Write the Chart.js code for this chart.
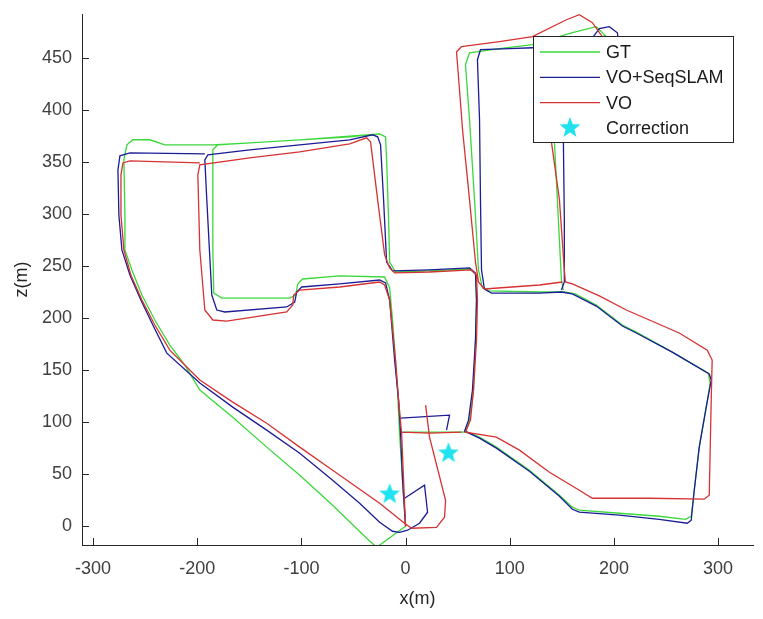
<!DOCTYPE html>
<html>
<head>
<meta charset="utf-8">
<script src="https://cdn.jsdelivr.net/npm/chart.js@4.4.0/dist/chart.umd.min.js"></script>
<style>
  html, body { margin: 0; padding: 0; background: #fff; }
</style>
</head>
<body>
<canvas id="c" width="763" height="619"></canvas>
<script>
// trajectory pieces, [x, z] in metres
const gtA = [[0,0],[-2.9,44.2],[-5.8,89.4],[-7.7,130.8],[-12.5,198.1],[-15.3,228.8],[-20.1,239.4],[-63.3,240.4],[-98.8,237.5],[-103.5,232.7],[-105.5,222.1],[-111.2,219.2],[-176.4,219.2],[-184.1,224],[-185,265.4],[-185,361.5],[-180.3,366.3],[-149.6,368.3],[-101.6,371.2],[-53.7,374],[-24.9,376.9],[-19.2,374],[-18.2,351.9],[-16.3,294.2],[-15.3,253.8],[-9.6,244.2],[23,245.2],[61.4,247.1],[67.1,242.3],[68.1,217.3],[67.1,178.8],[65.2,130.8],[61.4,101.9],[57.5,91.3],[70.9,85.6],[87.2,76],[118.9,53.8],[147.7,29.8],[160.1,18.3],[166.8,15.4],[205.2,12.5],[243.5,9.6],[268.5,6.7],[274.2,9.6],[277.1,34.6],[281.9,76],[288.6,114.4],[292.4,137.5],[290.5,147.1],[256,167.3],[221.5,186.5],[208.1,193.3],[183.1,212.5],[163,223.1],[152.4,225],[128.5,225],[80.5,226],[73.8,228.8],[70,246.2],[66.2,313.5],[61.4,390.4],[57.5,443.3],[61.4,454.8],[90.1,458.7],[121.8,462.5],[160.1,474],[183.1,479.8],[191.8,471.2],[139,451.9],[142.9,369.2],[146.7,294.2],[149.6,236.5],[151.5,226.9]];
const gtB = [[-24.9,376.9],[-101.6,371.2],[-149.6,368.3],[-185,366.3],[-231.1,366.3],[-245.4,371.2],[-261.7,371.2],[-267.5,366.3],[-270.4,351.9],[-269.4,299],[-269.4,265.4],[-262.7,246.2],[-253.1,222.1],[-240.7,198.1],[-226.3,174],[-211.9,154.8],[-197.5,130.8],[-165.9,104.8],[-133.3,76],[-101.6,49],[-70,20.2],[-37.4,-11.5],[-27.8,-20.2],[0,0]];
const gtC = [[-5.8,90.4],[57.5,90.4]];

const seqA = [[0,0],[-2.9,44.2],[-4.8,89.4],[-6.7,121.2],[-10.5,159.6],[-15.3,217.3],[-19.2,233.7],[-24.9,236.5],[-63.3,232.7],[-99.7,229.8],[-104.5,225],[-106.4,215.4],[-114.1,210.6],[-173.5,205.8],[-181.2,207.7],[-186,222.1],[-190.8,313.5],[-192.7,351.9],[-189.8,356.7],[-149.6,361.5],[-101.6,366.3],[-53.7,371.2],[-31.6,376],[-26.8,374],[-24,366.3],[-21.1,313.5],[-18.2,253.8],[-12.5,245.2],[23,246.2],[61.4,248.1],[67.1,243.3],[68.1,217.3],[67.1,178.8],[64.2,130.8],[60.4,101.9],[56.6,91.3],[70.9,84.6],[87.2,75],[118.9,52.9],[147.7,28.8],[160.1,16.3],[166.8,13.5],[205.2,10.6],[243.5,6.7],[270.4,2.9],[274.2,5.8],[277.1,34.6],[281.9,76],[288.6,114.4],[293.4,140.4],[291.5,146.2],[256,167.3],[221.5,185.6],[208.1,192.3],[183.1,211.5],[160.1,223.1],[149.6,225],[128.5,224],[82.5,224],[75.7,227.9],[72.9,246.2],[71.9,313.5],[71,390.4],[69,448.1],[71.9,457.7],[99.7,458.7],[121.8,459.6],[171.6,461.5],[180.3,470.2],[186,477.9],[195.6,479.8],[203.3,474],[204.2,467.3],[162,452.9],[151.5,446.2],[151.5,369.2],[152.4,294.2],[152.4,234.6],[149.6,226.9]];
const seqB = [[-192.7,357.7],[-264.6,358.7],[-274.2,355.8],[-276.1,342.3],[-275.2,299],[-272.3,265.4],[-264.6,241.3],[-254.1,217.3],[-242.6,193.3],[-229.2,166.3],[-197.5,137.5],[-165.9,114.4],[-133.3,92.3],[-101.6,70.2],[-70,44.2],[-44.1,22.1],[-24.9,3.8],[-12.5,-4.8],[-5.8,-5.8],[1.9,-3.8],[13.4,2.9],[21.1,13.5],[18.2,39.4],[-1,26.9]];
const seqC = [[-4.8,103.8],[42.2,106.7],[39.3,92.3]];

const voA = [[0,0],[-1.9,44.2],[-3.8,89.4],[-6.7,121.2],[-9.6,159.6],[-15.3,217.3],[-20.1,231.7],[-24.9,234.6],[-63.3,229.8],[-101.6,226.9],[-107.4,222.1],[-108.3,212.5],[-114.1,205.8],[-171.6,197.1],[-185,198.1],[-192.7,207.7],[-197.5,265.4],[-199.4,337.5],[-197.5,347.1],[-149.6,353.8],[-101.6,359.6],[-53.7,367.3],[-37.4,373.1],[-33.6,369.2],[-26.8,313.5],[-20.1,260.6],[-15.3,248.1],[-10.5,243.3],[23,244.2],[63.3,246.2],[68.1,241.3],[69,217.3],[68.1,178.8],[65.2,130.8],[62.3,101.9],[57.5,90.4],[87.2,85.6],[109.3,73.1],[138.1,51.9],[166.8,34.6],[179.3,26.9],[233.9,26.9],[286.7,26],[291.5,29.8],[292.4,73.1],[293.4,121.2],[294.3,159.6],[289.6,169.2],[262.7,185.6],[211.9,207.7],[186,221.2],[160.1,232.7],[153.4,234.6],[152.4,246.2],[147.7,313.5],[140,369.2],[134.2,448.1],[188.9,470.2],[179.3,483.7],[166.8,491.3],[154.4,486.5],[121.8,470.2],[90.1,465.4],[53.7,460.6],[48.9,455.8],[49.9,443.3],[54.7,380.8],[61.4,313.5],[67.1,253.8],[70,234.6],[75.7,227.9],[128.5,231.7],[150.5,234.6]];
const voB = [[-3.8,90.4],[23,89.4],[53.7,90.4]];
const voC = [[-197.5,349],[-264.6,351],[-271.3,349],[-273.2,337.5],[-273.2,299],[-270.4,265.4],[-263.7,241.3],[-253.1,217.3],[-240.7,193.3],[-226.3,169.2],[-197.5,140.4],[-165.9,119.2],[-133.3,99],[-101.6,76],[-70,53.8],[-24.9,22.1],[-1,2.9],[5.8,-1.9],[29.7,-1],[37.4,8.7],[38.4,25],[23,85.6],[19.2,116.3]];

const corrections = [[-15.3,30.8],[41.2,70.2]];

const seriesNames = ['GT', 'VO+SeqSLAM', 'VO', 'Correction'];
const seriesColors = ['#3ad83a', '#1c1c96', '#d63232', '#1ee2ee'];
const xTicks = [-300, -200, -100, 0, 100, 200, 300];
const zTicks = [0, 50, 100, 150, 200, 250, 300, 350, 400, 450];

const axisColor = '#262626';
const labelFont = { family: '"Liberation Sans", Arial, sans-serif', size: 18 };

// join pieces, a null point breaks the line
function pts(pieces) {
  const out = [];
  pieces.forEach((p, i) => {
    if (i > 0) out.push({ x: null, y: null });
    p.forEach(q => out.push({ x: q[0], y: q[1] }));
  });
  return out;
}

function starImage(r, color) {
  const c = document.createElement('canvas');
  const s = Math.ceil(r * 2 + 2);
  c.width = s; c.height = s;
  const g = c.getContext('2d');
  g.beginPath();
  for (let i = 0; i < 10; i++) {
    const rad = i % 2 ? r * 0.42 : r;
    const a = -Math.PI / 2 + i * Math.PI / 5;
    g.lineTo(s / 2 + rad * Math.cos(a), s / 2 + rad * Math.sin(a));
  }
  g.closePath();
  g.fillStyle = color;
  g.fill();
  return c;
}
const star = starImage(11, seriesColors[3]);

function lineSet(i, pieces, order) {
  return {
    label: seriesNames[i],
    data: pts(pieces),
    showLine: true,
    borderColor: seriesColors[i],
    backgroundColor: seriesColors[i],
    borderWidth: 1.3,
    pointRadius: 0,
    spanGaps: false,
    order: order
  };
}

// ticks point into the plot like in matlab
const inwardTicks = {
  id: 'inwardTicks',
  afterDatasetsDraw(chart) {
    const { ctx, chartArea: a, scales } = chart;
    ctx.save();
    ctx.strokeStyle = axisColor;
    ctx.lineWidth = 1;
    ctx.beginPath();
    scales.x.ticks.forEach(t => {
      const px = Math.round(scales.x.getPixelForValue(t.value)) + 0.5;
      ctx.moveTo(px, a.bottom); ctx.lineTo(px, a.bottom - 7);
    });
    scales.y.ticks.forEach(t => {
      const py = Math.round(scales.y.getPixelForValue(t.value)) + 0.5;
      ctx.moveTo(a.left, py); ctx.lineTo(a.left + 7, py);
    });
    ctx.stroke();
    ctx.restore();
  }
};

// boxed legend in the upper right corner
const boxLegend = {
  id: 'boxLegend',
  afterDraw(chart) {
    const { ctx, chartArea: a } = chart;
    const left = a.right - 220, top = a.top + 22, w = 200, h = 106;
    ctx.save();
    ctx.fillStyle = '#fff';
    ctx.fillRect(left, top, w, h);
    ctx.strokeStyle = axisColor;
    ctx.lineWidth = 1;
    ctx.strokeRect(left + 0.5, top + 0.5, w, h);
    ctx.font = labelFont.size + 'px ' + labelFont.family;
    ctx.textBaseline = 'middle';
    ctx.fillStyle = '#1a1a1a';
    chart.data.datasets.forEach((ds, i) => {
      const y = top + 16 + i * 25.3;
      if (ds.showLine) {
        ctx.strokeStyle = ds.borderColor;
        ctx.lineWidth = 1.3;
        ctx.beginPath();
        ctx.moveTo(left + 7, y); ctx.lineTo(left + 67, y);
        ctx.stroke();
      } else {
        ctx.drawImage(star, left + 37 - star.width / 2, y - star.height / 2);
      }
      ctx.fillText(ds.label, left + 73, y + 1);
    });
    ctx.restore();
  }
};

new Chart(document.getElementById('c'), {
  type: 'scatter',
  data: {
    datasets: [
      lineSet(0, [gtA, gtB, gtC], 3),
      lineSet(1, [seqA, seqB, seqC], 2),
      lineSet(2, [voA, voB, voC], 1),
      {
        label: seriesNames[3],
        data: pts([corrections]),
        showLine: false,
        pointStyle: star,
        backgroundColor: seriesColors[3],
        borderColor: seriesColors[3],
        order: 0
      }
    ]
  },
  options: {
    responsive: false,
    animation: false,
    events: [],
    layout: { padding: { top: 14, right: 10, left: 0, bottom: 0 } },
    plugins: { legend: { display: false }, tooltip: { enabled: false } },
    scales: {
      x: {
        type: 'linear',
        min: -310.6,
        max: 333.5,
        afterFit(s) { s.height = 74; s.paddingLeft = 0; s.paddingRight = 0; },
        afterBuildTicks(s) { s.ticks = xTicks.map(v => ({ value: v })); },
        ticks: { font: labelFont, color: '#404040', padding: 13, includeBounds: false },
        grid: { drawOnChartArea: false, drawTicks: false },
        border: { display: true, color: axisColor, width: 1 },
        title: { display: true, text: 'x(m)', font: labelFont, color: axisColor, padding: { top: 0, bottom: 9 } }
      },
      y: {
        type: 'linear',
        min: -18,
        max: 492,
        afterFit(s) { s.width = 82; s.paddingTop = 0; s.paddingBottom = 0; },
        afterBuildTicks(s) { s.ticks = zTicks.map(v => ({ value: v })); },
        ticks: { font: labelFont, color: '#404040', padding: 10, includeBounds: false },
        grid: { drawOnChartArea: false, drawTicks: false },
        border: { display: true, color: axisColor, width: 1 },
        title: { display: true, text: 'z(m)', font: labelFont, color: axisColor, padding: { top: 11, bottom: 0 } }
      }
    }
  },
  plugins: [inwardTicks, boxLegend]
});
</script>
</body>
</html>
